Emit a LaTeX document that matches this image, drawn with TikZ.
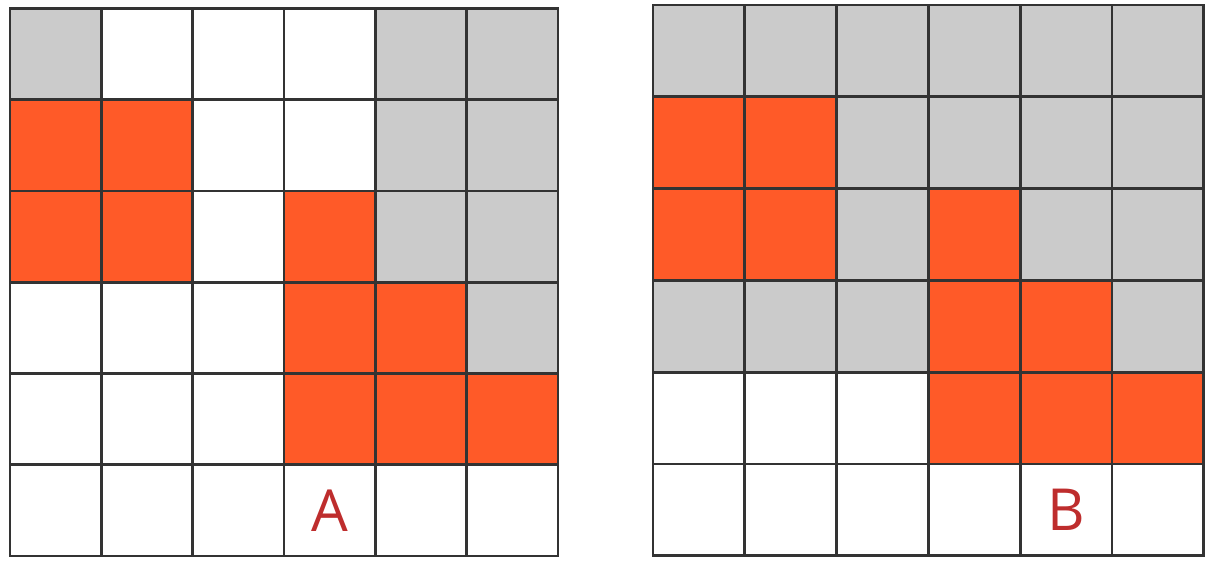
\documentclass[tikz,border=0pt]{standalone}
\usepackage{fontspec}
\setmainfont{Open Sans}
\definecolor{cellgray}{HTML}{CBCBCB}
\definecolor{cellred}{HTML}{FF5A28}
\definecolor{labelred}{HTML}{BE2D2D}
\definecolor{gridline}{HTML}{333333}
\begin{document}
\begin{tikzpicture}[x=1pt,y=-1pt]
\useasboundingbox (0,0) rectangle (1216,564);
%Grid A
\begin{scope}[shift={(10,8.5)},x=91.33pt,y=-91.25pt]
\foreach \c/\r in {0/0,4/0,5/0,4/1,5/1,4/2,5/2,5/3} \fill[cellgray] (\c,\r) rectangle +(1,1);
\foreach \c/\r in {0/1,1/1,0/2,1/2,3/2,3/3,4/3,3/4,4/4,5/4} \fill[cellred] (\c,\r) rectangle +(1,1);
\foreach \i in {0,...,6} \draw[gridline, line width=2.8pt, line cap=rect] (\i,0) -- (\i,6) (0,\i) -- (6,\i);
\node[text=labelred, font=\fontsize{58}{58}\selectfont] (A) at (3.5,5.5) {A};
\end{scope}
%Grid B
\begin{scope}[shift={(653,5)},x=91.8pt,y=-91.8pt]
\foreach \c in {0,...,5} \fill[cellgray] (\c,0) rectangle +(1,1);
\foreach \c/\r in {2/1,3/1,4/1,5/1,2/2,4/2,5/2,0/3,1/3,2/3,5/3} \fill[cellgray] (\c,\r) rectangle +(1,1);
\foreach \c/\r in {0/1,1/1,0/2,1/2,3/2,3/3,4/3,3/4,4/4,5/4} \fill[cellred] (\c,\r) rectangle +(1,1);
\foreach \i in {0,...,6} \draw[gridline, line width=2.8pt, line cap=rect] (\i,0) -- (\i,6) (0,\i) -- (6,\i);
\node[text=labelred, font=\fontsize{58}{58}\selectfont] (B) at (4.5,5.5) {B};
\end{scope}
\end{tikzpicture}
\end{document}
